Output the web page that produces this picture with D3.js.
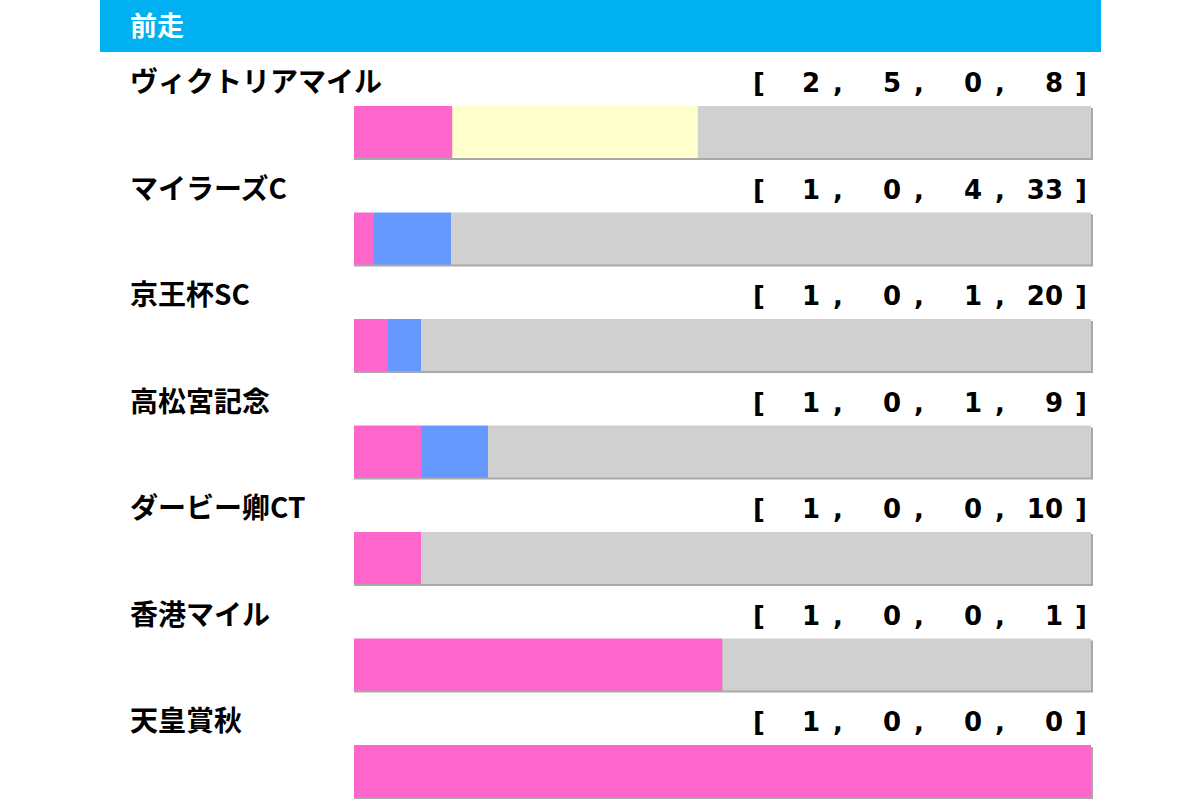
<!DOCTYPE html>
<html>
<head>
<meta charset="utf-8">
<script src="https://cdn.jsdelivr.net/npm/d3@7"></script>
<style>
	body{margin:0;background:#fff;}
	text{font-family:"Noto Sans CJK JP","Noto Sans",sans-serif;font-weight:bold;}
	text.num{font-family:"DejaVu Sans",sans-serif;}
</style>
</head>
<body>
<script>
var title = "前走";
var races = ["ヴィクトリアマイル","マイラーズC","京王杯SC","高松宮記念","ダービー卿CT","香港マイル","天皇賞秋"];
// [1着, 2着, 3着, 着外]
var first  = [2,1,1,1,1,1,1];
var second = [5,0,0,0,0,0,0];
var third  = [0,4,1,1,0,0,0];
var other  = [8,33,20,9,10,1,0];
var segColors = ["#ff66cc","#ffffcc","#6699ff","#d0d0d0"];

var width = 1200, height = 800;
var svg = d3.select("body").append("svg")
	.attr("width", width)
	.attr("height", height);

//header band
svg.append("rect")
	.attr("x",100).attr("y",0)
	.attr("width",1001).attr("height",52)
	.attr("fill","#00b0f0");
svg.append("text")
	.attr("x",130).attr("y",36)
	.attr("fill","#fff")
	.style("font-size","27px")
	.text(title);

var rows = d3.scaleBand()
	.domain(races)
	.range([53, 53 + races.length*106.5]);

var barLeft = 354, barRight = 1091, barH = 52;

var data = races.map(function(r,i){
	return {name:r, values:[first[i],second[i],third[i],other[i]]};
});

var row = svg.selectAll(".row")
	.data(data).enter()
	.append("g")
		.attr("class","row")
		.attr("transform",function(d){ return "translate(0,"+rows(d.name)+")"; });

row.append("text")
	.attr("x",130).attr("y",39)
	.style("font-size","28px")
	.attr("fill","#000")
	.text(function(d){ return d.name; });

//bracket text, each number right aligned in its own field
row.append("text")
	.attr("class","num")
	.attr("x",753).attr("y",39)
	.style("font-size","26px")
	.text("[");
row.append("text")
	.attr("class","num")
	.attr("x",1075).attr("y",39)
	.style("font-size","26px")
	.text("]");
var fieldRight = [820,901,982,1063];
row.each(function(d){
	var g = d3.select(this);
	for (var k = 0; k < d.values.length; k++) {
		g.append("text")
			.attr("class","num")
			.attr("x",fieldRight[k]).attr("y",39)
			.attr("text-anchor","end")
			.style("font-size","26px")
			.text(d.values[k]);
		if(k<3){
			g.append("text")
				.attr("class","num")
				.attr("x",fieldRight[k]+13).attr("y",39)
				.style("font-size","26px")
				.text(",");
		}
	}
});

//shadow under bar
row.append("rect")
	.attr("x",barLeft).attr("y",55)
	.attr("width",barRight-barLeft+2).attr("height",barH)
	.attr("fill","#a8a8a8");

row.each(function(d){
	var total = d3.sum(d.values);
	var x = d3.scaleLinear().domain([0,total]).range([barLeft,barRight]);
	var cum = 0;
	var segs = d.values.map(function(v,k){
		var s = {start:cum,end:cum+v,color:segColors[k]};
		cum += v;
		return s;
	});
	d3.select(this).selectAll(".seg")
		.data(segs.filter(function(s){ return s.end>s.start; })).enter()
		.append("rect")
			.attr("class","seg")
			.attr("x",function(s){ return x(s.start); })
			.attr("y",53)
			.attr("width",function(s){ return x(s.end)-x(s.start); })
			.attr("height",barH)
			.attr("fill",function(s){ return s.color; });
});
</script>
</body>
</html>
